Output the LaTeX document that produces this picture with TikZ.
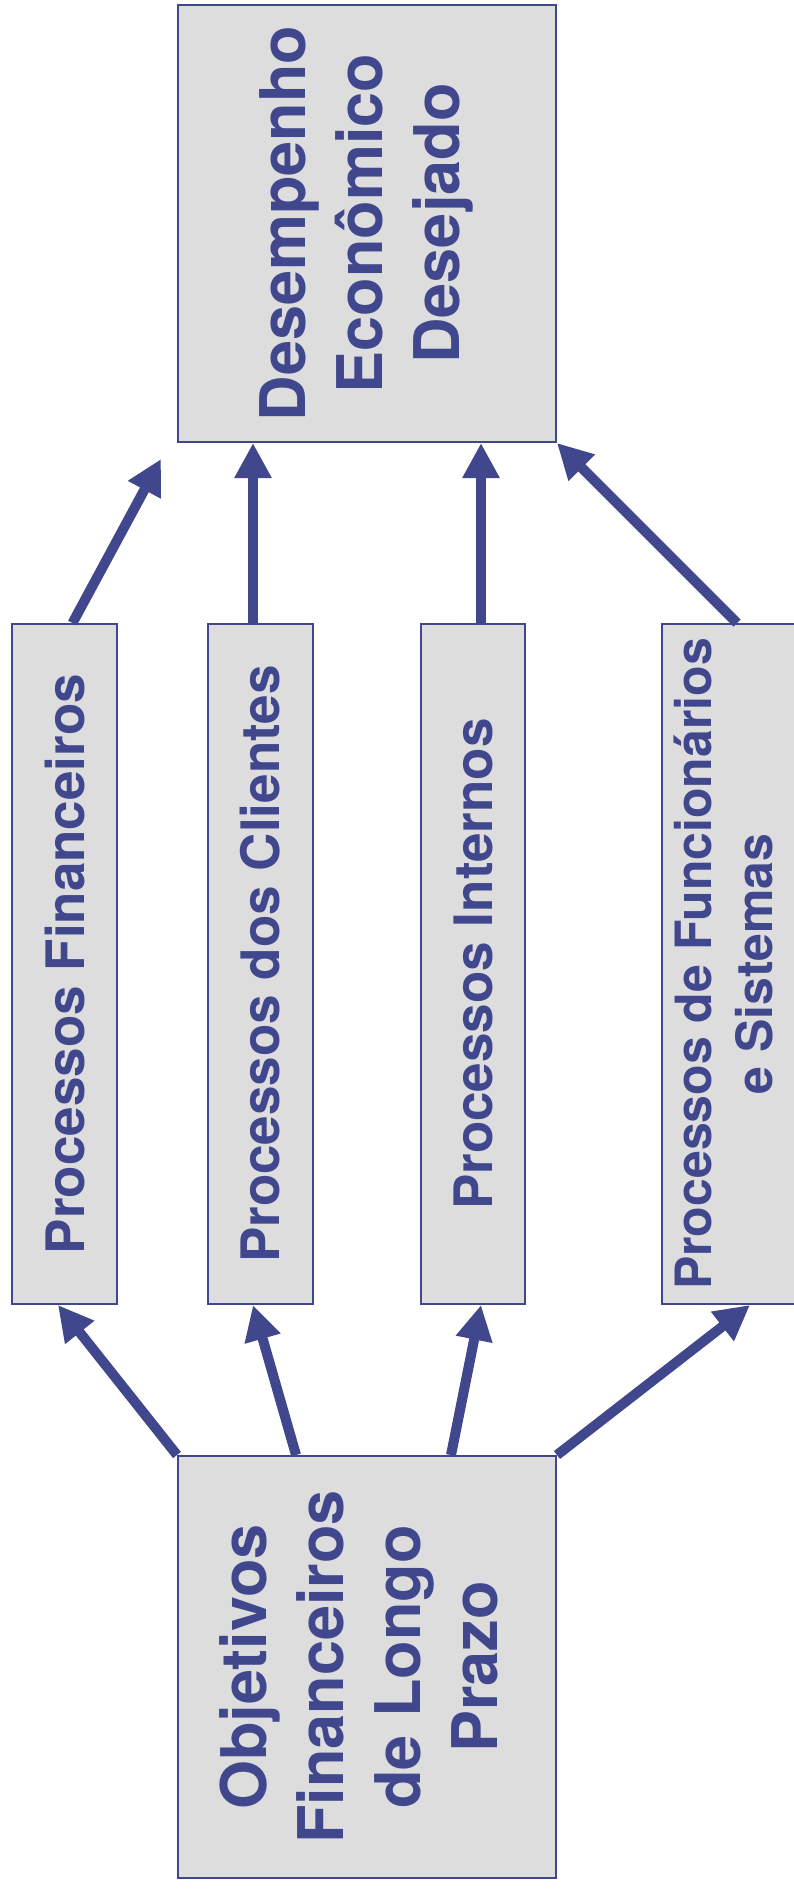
\documentclass[tikz,border=0pt]{standalone}
\usepackage{fontspec}
\setmainfont{TeX Gyre Heros}
\usetikzlibrary{arrows.meta}
\definecolor{ink}{RGB}{64,71,140}
\definecolor{boxgray}{RGB}{221,221,221}
\begin{document}
\begin{tikzpicture}[x=1pt,y=-1pt,
  box/.style={draw=ink, fill=boxgray, line width=2pt, inner sep=0pt,
    anchor=center, text=ink, font=\bfseries},
  link/.style={draw=ink, line width=10pt,
    -{Triangle[length=35pt,width=35pt]}},
]
\useasboundingbox (0,0) rectangle (793,1890);

% outcome box at the top
\node[box, minimum width=378pt, minimum height=437pt] (des) at (367,223.5)
  {\rotatebox{90}{\fontsize{63}{77}\selectfont
   \begin{tabular}{@{}c@{}}Desempenho\\Econômico\\Desejado\end{tabular}}};

% the four process columns
\node[box, minimum width=105pt, minimum height=680pt] (fin) at (64.5,964)
  {\rotatebox{90}{\fontsize{53}{64}\selectfont Processos Financeiros}};
\node[box, minimum width=105pt, minimum height=680pt] (cli) at (260.5,964)
  {\rotatebox{90}{\fontsize{53}{64}\selectfont Processos dos Clientes}};
\node[box, minimum width=104pt, minimum height=680pt] (int) at (473,964)
  {\rotatebox{90}{\fontsize{53}{64}\selectfont Processos Internos}};
\node[box, minimum width=136pt, minimum height=680pt] (fun) at (730,964)
  {\rotatebox{90}{\fontsize{50}{61}\selectfont
   \begin{tabular}{@{}c@{}}Processos de Funcionários\\e Sistemas\end{tabular}}};

% long-term objectives box at the bottom
\node[box, minimum width=378pt, minimum height=422pt] (obj) at (367,1667)
  {\rotatebox{90}{\fontsize{63}{77}\selectfont
   \begin{tabular}{@{}c@{}}Objetivos\\Financeiros\\de Longo\\Prazo\end{tabular}}};

% objectives feed every process
\draw[link] (obj.north west) -- ([xshift=-6.5pt]fin.south);
\draw[link] ([xshift=119pt]obj.north west) -- ([xshift=-7.5pt]cli.south);
\draw[link] ([xshift=-106pt]obj.north east) -- ([xshift=8pt]int.south);
\draw[link] (obj.north east) -- ([xshift=20pt]fun.south);

% processes lead to the desired performance
\coordinate (finTip) at (161,459);
\draw[link] ([xshift=8pt]fin.north) -- (finTip);
\draw[link] ([xshift=-7.5pt]cli.north) -- ([xshift=-7.5pt]cli.north |- des.south);
\draw[link] ([xshift=8pt]int.north) -- ([xshift=8pt]int.north |- des.south);
\draw[link] ([xshift=7pt]fun.north) -- (des.south east);
\end{tikzpicture}
\end{document}
